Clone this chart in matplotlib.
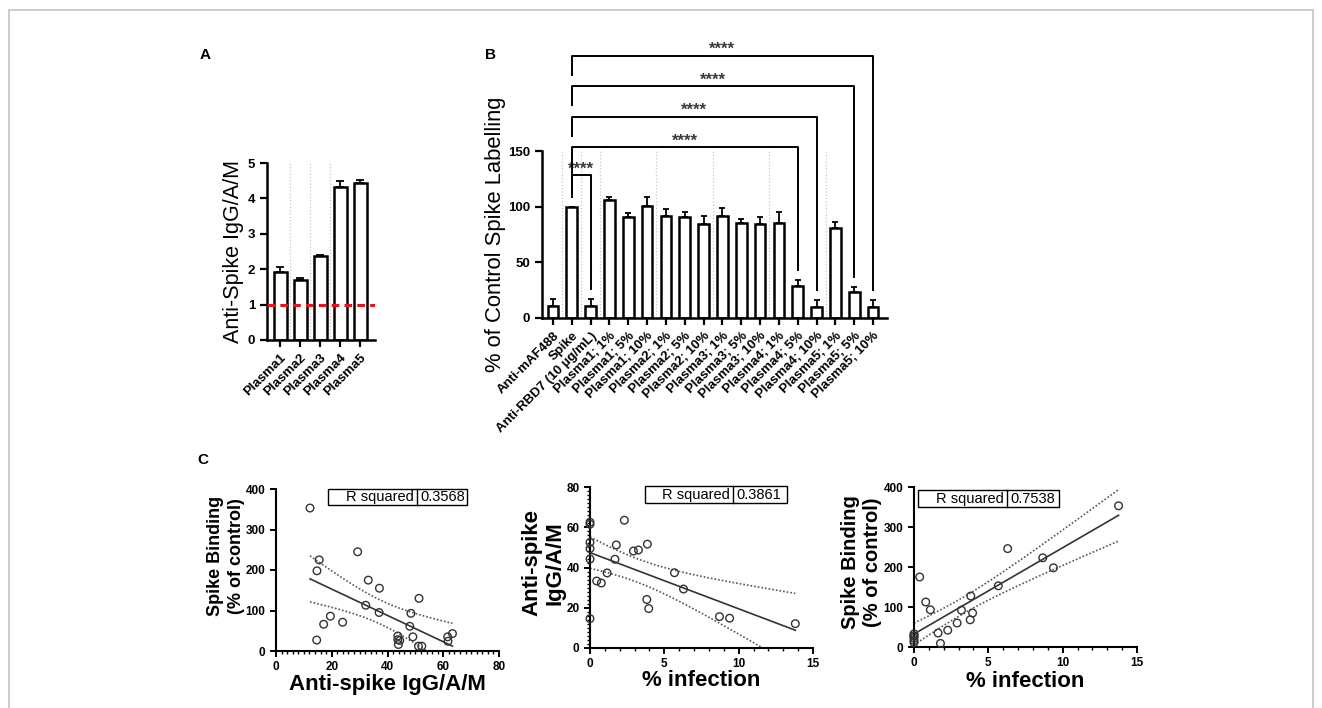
import numpy as np
import matplotlib
matplotlib.use('Agg')
import matplotlib.pyplot as plt
from matplotlib.patches import Rectangle
from matplotlib.lines import Line2D
from matplotlib.ticker import MultipleLocator

plt.rcParams['font.family'] = ['Liberation Sans', 'DejaVu Sans']

# Panel A: anti-spike IgG/A/M per plasma
a_labels = ['Plasma1', 'Plasma2', 'Plasma3', 'Plasma4', 'Plasma5']
a_values = [1.92, 1.70, 2.37, 4.33, 4.43]
a_err = [0.13, 0.05, 0.03, 0.15, 0.10]
a_cutoff = 1.0

# Panel B: % of control spike labelling
b_labels = ['Anti-mAF488', 'Spike', 'Anti-RBD7 (10 µg/mL)',
            'Plasma1; 1%', 'Plasma1; 5%', 'Plasma1; 10%',
            'Plasma2; 1%', 'Plasma2; 5%', 'Plasma2; 10%',
            'Plasma3; 1%', 'Plasma3; 5%', 'Plasma3; 10%',
            'Plasma4; 1%', 'Plasma4; 5%', 'Plasma4; 10%',
            'Plasma5; 1%', 'Plasma5; 5%', 'Plasma5; 10%']
b_values = [11, 100, 11, 106, 91, 101, 92, 91, 84, 92, 85.5, 84, 85.5, 29, 10, 81, 23.5, 10]
b_err = [6, 0, 6, 3, 3, 8, 6, 4, 8, 7, 3, 7, 10, 5, 6, 5, 4, 6]
b_compare = [(1, 2), (1, 13), (1, 14), (1, 16), (1, 17)]
b_stars = ['****', '****', '****', '****', '****']

# Panel C: correlations
c1_antispike = [12.2, 15.5, 14.7, 14.6, 17.1, 19.5, 23.9, 29.3, 33.1, 32.2, 37.1, 37.0, 43.7,
                43.7, 44.4, 43.9, 48.4, 48.0, 49.1, 51.3, 51.1, 52.3, 61.6, 63.3, 61.7]
c1_binding = [353, 225, 198, 27, 66, 86, 71, 245, 175, 113, 155, 95, 37,
              28, 26, 16, 93, 61, 35, 130, 12, 12, 35, 43, 24]
c1_r2 = '0.3568'

c2_infection = [0, 0, 0, 0, 0, 0, 0.45, 0.76, 1.15, 1.68, 1.77, 2.31, 2.92, 3.26, 3.86,
                3.82, 3.95, 5.68, 6.29, 8.71, 9.39, 13.81]
c2_antispike = [62.5, 61.5, 52.5, 49.4, 44.2, 14.6, 33.3, 32.3, 37.3, 44.1, 51.2, 63.5, 48.2,
                48.7, 51.6, 24.1, 19.6, 37.4, 29.3, 15.6, 14.8, 12.1]
c2_r2 = '0.3861'

c3_infection = [13.76, 6.30, 8.66, 9.38, 5.67, 3.82, 0.38, 0.79, 1.10, 3.19, 3.94, 3.78,
                2.90, 2.27, 1.62, 1.78, 0, 0, 0, 0, 0, 0]
c3_binding = [353, 246, 223, 198, 153, 127.5, 175, 112.5, 93, 92, 85, 68,
              60, 42, 35, 9, 33, 27, 22, 16, 11, 28]
c3_r2 = '0.7538'

W, H = 1322, 708


def px_axes(left, right, top, bottom):
    # pixel box -> figure fraction
    return [left / W, 1 - bottom / H, (right - left) / W, (bottom - top) / H]


def style_bar_axes(ax):
    for s in ['top', 'right']:
        ax.spines[s].set_visible(False)
    for s in ['left', 'bottom']:
        ax.spines[s].set_linewidth(1.8)
    ax.tick_params(direction='out', length=5, width=1.6, labelsize=9.5)
    for lab in ax.get_yticklabels():
        lab.set_fontweight('bold')


fig = plt.figure(figsize=(W / 100, H / 100), dpi=100)

# light frame
fig.add_artist(Line2D([9 / W, 1313 / W], [1 - 10 / H, 1 - 10 / H], color='#c4c4c4', lw=1.2))
fig.add_artist(Line2D([9 / W, 9 / W], [1 - 10 / H, 0], color='#c4c4c4', lw=1.2))
fig.add_artist(Line2D([1313 / W, 1313 / W], [1 - 10 / H, 0], color='#c4c4c4', lw=1.2))

# ---- Panel A ----
axA = fig.add_axes(px_axes(267, 375, 163, 340))
xa = np.arange(len(a_values))
axA.vlines([0.5, 1.5, 2.5], 0, 5, colors='#c8c8c8', linestyles=':', lw=0.9, zorder=0)
axA.bar(xa, a_values, width=0.65, color='white', edgecolor='black', linewidth=1.8, zorder=2)
axA.errorbar(xa, a_values, yerr=[np.zeros(len(a_err)), a_err], fmt='none', ecolor='black',
             elinewidth=1.3, capsize=3, capthick=1.3, zorder=1)
axA.axhline(a_cutoff, color='#e8141a', ls=(0, (2.5, 1.7)), lw=2.2, zorder=3)
axA.set_xlim(-0.65, 4.75)
axA.set_ylim(0, 5)
axA.set_yticks(range(6))
axA.set_xticks(xa)
axA.set_xticklabels(a_labels, rotation=45, ha='right', rotation_mode='anchor',
                    fontweight='bold', fontsize=9.5)
style_bar_axes(axA)
axA.set_ylabel('Anti-Spike IgG/A/M', fontsize=15.5)
axA.yaxis.set_label_coords(-0.21, 0.5)

# ---- Panel B ----
axB = fig.add_axes(px_axes(542, 887, 151, 318))
xb = np.arange(len(b_values))
axB.vlines([0.5, 1.5, 2.5, 5.5, 8.5, 11.5, 14.5], 0, 150, colors='#c8c8c8',
           linestyles=':', lw=0.9, zorder=0)
axB.bar(xb, b_values, width=0.56, color='white', edgecolor='black', linewidth=1.8, zorder=2)
axB.errorbar(xb, b_values, yerr=[np.zeros(len(b_err)), b_err], fmt='none', ecolor='black',
             elinewidth=1.3, capsize=2.5, capthick=1.3, zorder=1)
axB.set_xlim(-0.58, 17.74)
axB.set_ylim(0, 150)
axB.set_yticks([0, 50, 100, 150])
axB.set_xticks(xb)
axB.set_xticklabels(b_labels, rotation=45, ha='right', rotation_mode='anchor',
                    fontweight='bold', fontsize=9)
style_bar_axes(axB)
axB.set_ylabel('% of Control Spike Labelling', fontsize=15.8)
axB.yaxis.set_label_coords(-0.103, 0.5)

# significance brackets
for k, ((i, j), st) in enumerate(zip(b_compare, b_stars)):
    if k == 0:
        h = 128.5
        left_end = b_values[i] + b_err[i] + 9
    else:
        h = 153.5 + 27.3 * (k - 1)
        left_end = b_values[i] + 9 if k == 1 else h - 17
    right_end = b_values[j] + b_err[j] + 9
    axB.plot([i, i, j, j], [left_end, h, h, right_end], color='black', lw=1.4,
             clip_on=False, zorder=4)
    axB.text((i + j) / 2, h + 1.5, st, ha='center', va='baseline', fontsize=12,
             fontweight='bold', color='#3a3a3a')


# ---- Panel C ----
def fit_band(x, y, ax, t=2.07):
    x = np.asarray(x, float)
    y = np.asarray(y, float)
    n = len(x)
    b, a = np.polyfit(x, y, 1)
    xs = np.linspace(x.min(), x.max(), 100)
    yfit = a + b * xs
    s = np.sqrt(np.sum((y - (a + b * x)) ** 2) / (n - 2))
    se = s * np.sqrt(1 / n + (xs - x.mean()) ** 2 / np.sum((x - x.mean()) ** 2))
    ax.plot(xs, yfit, color='#333333', lw=1.2, zorder=2)
    ax.plot(xs, yfit + t * se, color='#555555', lw=1.2, ls=(0, (1, 1.2)), zorder=2)
    ax.plot(xs, yfit - t * se, color='#555555', lw=1.2, ls=(0, (1, 1.2)), zorder=2)


def r2_box(ax, x0, x1, xm, y0, y1, value):
    ax.add_patch(Rectangle((x0, y0), x1 - x0, y1 - y0, transform=ax.transAxes, fill=False,
                           edgecolor='black', lw=1.0, clip_on=False, zorder=5))
    ax.add_artist(Line2D([xm, xm], [y0, y1], transform=ax.transAxes, color='black', lw=1.0,
                         clip_on=False, zorder=5))
    ax.text(xm - 0.015, (y0 + y1) / 2, 'R squared', transform=ax.transAxes, ha='right',
            va='center', fontsize=10.5)
    ax.text(xm + 0.015, (y0 + y1) / 2, value, transform=ax.transAxes, ha='left',
            va='center', fontsize=10.5)


def style_scatter_axes(ax):
    for s in ['top', 'right']:
        ax.spines[s].set_visible(False)
    for s in ['left', 'bottom']:
        ax.spines[s].set_linewidth(1.5)
    ax.tick_params(which='major', direction='out', length=4, width=1.4, labelsize=8.5)
    ax.tick_params(which='minor', direction='out', length=2, width=1.0)
    for lab in ax.get_xticklabels() + ax.get_yticklabels():
        lab.set_fontweight('bold')


axC1 = fig.add_axes(px_axes(276, 499, 489, 651))
axC1.scatter(c1_antispike, c1_binding, s=30, facecolors='none', edgecolors='#333333',
             linewidths=1.0, zorder=3, clip_on=False)
fit_band(c1_antispike, c1_binding, axC1)
axC1.set_xlim(0, 80)
axC1.set_ylim(0, 400)
axC1.set_xticks([0, 20, 40, 60, 80])
axC1.set_yticks([0, 100, 200, 300, 400])
axC1.xaxis.set_minor_locator(MultipleLocator(2))
style_scatter_axes(axC1)
axC1.set_xlabel('Anti-spike IgG/A/M', fontsize=16, fontweight='bold')
axC1.set_ylabel('Spike Binding\n(% of control)', fontsize=13, fontweight='bold',
                linespacing=1.3)
axC1.yaxis.set_label_coords(-0.14, 0.585)
axC1.xaxis.set_label_coords(0.5, -0.145)
r2_box(axC1, 0.233, 0.857, 0.632, 0.901, 1.0, c1_r2)

axC2 = fig.add_axes(px_axes(590, 813, 487, 648))
axC2.scatter(c2_infection, c2_antispike, s=30, facecolors='none', edgecolors='#333333',
             linewidths=1.0, zorder=3, clip_on=False)
fit_band(c2_infection, c2_antispike, axC2)
axC2.set_xlim(0, 15)
axC2.set_ylim(0, 80)
axC2.set_xticks([0, 5, 10, 15])
axC2.set_yticks([0, 20, 40, 60, 80])
axC2.xaxis.set_minor_locator(MultipleLocator(1))
axC2.yaxis.set_minor_locator(MultipleLocator(2))
style_scatter_axes(axC2)
axC2.set_xlabel('% infection', fontsize=16, fontweight='bold')
axC2.set_ylabel('Anti-spike\nIgG/A/M', fontsize=16, fontweight='bold', linespacing=1.1)
axC2.yaxis.set_label_coords(-0.11, 0.53)
axC2.xaxis.set_label_coords(0.5, -0.135)
r2_box(axC2, 0.247, 0.883, 0.641, 0.90, 1.006, c2_r2)

axC3 = fig.add_axes(px_axes(914, 1137, 487, 647))
axC3.scatter(c3_infection, c3_binding, s=30, facecolors='none', edgecolors='#333333',
             linewidths=1.0, zorder=3, clip_on=False)
fit_band(c3_infection, c3_binding, axC3)
axC3.set_xlim(0, 15)
axC3.set_ylim(0, 400)
axC3.set_xticks([0, 5, 10, 15])
axC3.set_yticks([0, 100, 200, 300, 400])
axC3.xaxis.set_minor_locator(MultipleLocator(1))
style_scatter_axes(axC3)
axC3.set_xlabel('% infection', fontsize=16, fontweight='bold')
axC3.set_ylabel('Spike Binding\n(% of control)', fontsize=14.5, fontweight='bold',
                linespacing=1.15)
axC3.yaxis.set_label_coords(-0.145, 0.53)
axC3.xaxis.set_label_coords(0.5, -0.15)
r2_box(axC3, 0.018, 0.650, 0.417, 0.875, 0.981, c3_r2)

# panel letters
fig.text(205 / W, 1 - 55 / H, 'A', fontsize=11, fontweight='bold', ha='center', va='center')
fig.text(490 / W, 1 - 55 / H, 'B', fontsize=11, fontweight='bold', ha='center', va='center')
fig.text(203 / W, 1 - 460 / H, 'C', fontsize=11, fontweight='bold', ha='center', va='center')

fig.savefig('out.png', dpi=100)
